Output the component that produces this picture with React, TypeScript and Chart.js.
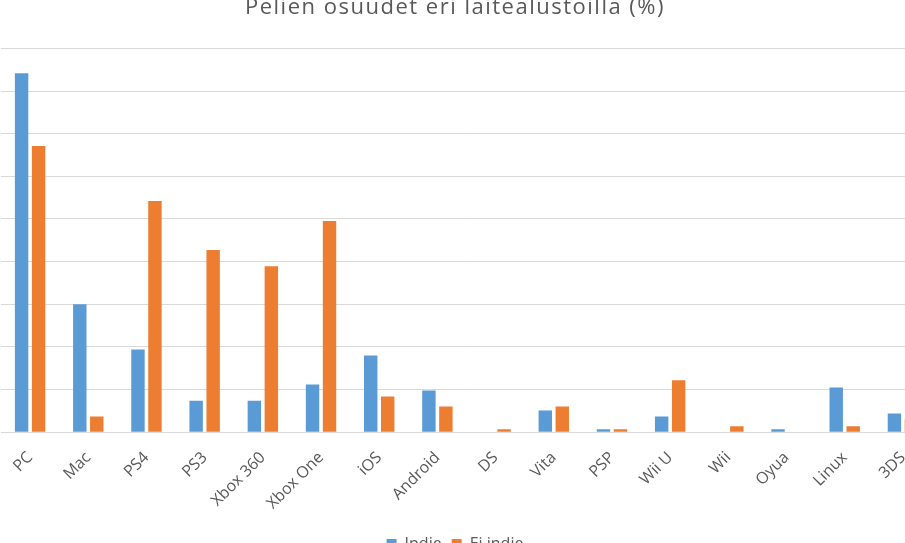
import React, { useEffect, useRef } from "react";
import { Chart, registerables } from "chart.js";

Chart.register(...registerables);

const categories = [
  "PC", "Mac", "PS4", "PS3", "Xbox 360", "Xbox One", "iOS", "Android",
  "DS", "Vita", "PSP", "Wii U", "Wii", "Oyua", "Linux", "3DS",
];
const indie = [84.2, 30.0, 19.4, 7.4, 7.4, 11.2, 18.0, 9.8, 0, 5.1, 0.7, 3.7, 0, 0.7, 10.5, 4.4];
const eiIndie = [67.1, 3.7, 54.2, 42.7, 38.9, 49.5, 8.4, 6.0, 0.7, 6.0, 0.7, 12.2, 1.4, 0, 1.4, 3.0];
const yMin = 0;
const yMax = 90;
const yStep = 10;

const titleText = "Pelien osuudet eri laitealustoilla (%)";
const seriesNames = ["Indie", "Ei indie"];
const colors = ["#5B9BD5", "#ED7D31"];

const FONT = "'Open Sans', 'Noto Sans', sans-serif";
const TEXT = "#595959";
const GRID = "#D9D9D9";

const CW = 970;
const CH = 572;

const titleSpacing = {
  id: "titleSpacing",
  beforeDraw(chart: any) {
    const tb = chart.titleBlock;
    if (tb && !tb.__patched) {
      const orig = tb.draw.bind(tb);
      tb.draw = (...args: any[]) => {
        const ctx = chart.ctx;
        ctx.save();
        (ctx as any).letterSpacing = "1.5px";
        orig(...args);
        ctx.restore();
      };
      tb.__patched = true;
    }
  },
};

export default function App() {
  const ref = useRef<HTMLCanvasElement | null>(null);

  useEffect(() => {
    if (!ref.current) return;
    const chart = new Chart(ref.current, {
      type: "bar",
      data: {
        labels: categories,
        datasets: [
          {
            label: seriesNames[0],
            data: indie,
            backgroundColor: colors[0],
            borderWidth: 0,
            categoryPercentage: 0.584,
            barPercentage: 0.79,
          },
          {
            label: seriesNames[1],
            data: eiIndie,
            backgroundColor: colors[1],
            borderWidth: 0,
            categoryPercentage: 0.584,
            barPercentage: 0.79,
          },
        ],
      },
      plugins: [titleSpacing],
      options: {
        responsive: false,
        animation: false,
        devicePixelRatio: 1,
        layout: { padding: 0 },
        plugins: {
          title: {
            display: true,
            text: titleText,
            color: TEXT,
            font: { family: FONT, size: 22, weight: "normal" },
            padding: { top: 5, bottom: 27 },
          },
          legend: {
            display: true,
            position: "bottom",
            labels: {
              color: TEXT,
              font: { family: FONT, size: 16 },
              boxWidth: 10,
              boxHeight: 10,
              padding: 10,
            },
          },
          tooltip: { enabled: false },
        },
        scales: {
          x: {
            grid: { display: false, drawTicks: false },
            border: { display: true, color: GRID, width: 1 },
            ticks: {
              color: TEXT,
              font: { family: FONT, size: 16 },
              maxRotation: 45,
              minRotation: 45,
              autoSkip: false,
              padding: 16,
            },
            afterFit: (axis: any) => {
              axis.height -= 3;
            },
          },
          y: {
            position: "left",
            min: yMin,
            max: yMax,
            ticks: { display: false, stepSize: yStep },
            grid: { color: GRID, lineWidth: 1, drawTicks: false },
            border: { display: false },
            afterFit: (axis: any) => {
              axis.width = 31;
            },
          },
          yRight: {
            position: "right",
            min: yMin,
            max: yMax,
            ticks: { display: false },
            grid: { display: false, drawTicks: false },
            border: { display: false },
            afterFit: (axis: any) => {
              axis.width = 8;
            },
          },
        },
      },
    });
    return () => chart.destroy();
  }, []);

  return (
    <div
      style={{
        position: "fixed",
        left: 0,
        top: 0,
        width: 905,
        height: 543,
        overflow: "hidden",
        background: "#fff",
      }}
    >
      <div style={{ position: "absolute", left: -30, top: -10, width: CW, height: CH }}>
        <canvas ref={ref} width={CW} height={CH} style={{ width: CW, height: CH }} />
      </div>
    </div>
  );
}
